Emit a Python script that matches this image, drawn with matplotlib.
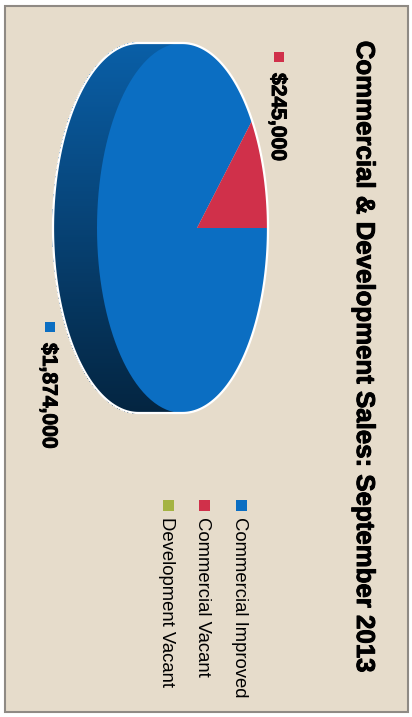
import numpy as np
import matplotlib.pyplot as plt
import matplotlib.colors as mcolors
import matplotlib.patheffects as pe
from matplotlib.patches import Rectangle, Polygon
from matplotlib.collections import PolyCollection

categories = ["Commercial Improved", "Commercial Vacant", "Development Vacant"]
sales = [1874000, 245000, 0]
colors = ["#0b6ec2", "#d0304a", "#a4b342"]
title = "Commercial & Development Sales: September 2013"

plt.rcParams['font.family'] = ['Liberation Sans', 'DejaVu Sans']

fig = plt.figure(figsize=(4.12, 7.17), dpi=100, facecolor='white')
ax = fig.add_axes([0, 0, 1, 1])
ax.set_xlim(0, 412)
ax.set_ylim(717, 0)
ax.axis('off')

# chart area
ax.add_patch(Rectangle((5, 6), 403, 706, facecolor='#e6dccb',
                       edgecolor='#8f8a84', lw=1.5, zorder=0))

# 3d pie turned on its side: far rim points right, thickness shows on the left
cx, cy = 182.5, 228
rx, ry = 85.5, 185
depth = 44
persp = 0.17


def rim_angle(theta):
    # slice boundary (deg, clockwise from the far rim) -> angle on the drawn ellipse
    t = np.radians(theta)
    z, x = np.cos(t), np.sin(t)
    w = 1 + persp * z
    return np.degrees(np.arctan2(np.sqrt(1 - persp ** 2) * x / w, (z + persp) / w))


def arc(a0, a1, shift=0.0, n=120):
    p = np.radians(np.linspace(a0, a1, n))
    return np.column_stack([cx + rx * np.cos(p) - shift, cy + ry * np.sin(p)])


def side_shade(y):
    # lit at the top end of the wall, almost black at the bottom end
    t = (y - (cy - ry)) / (2 * ry)
    return np.interp(t, [0, 0.5, 1], [0.86, 0.6, 0.33])


total = sum(sales)
bounds = np.concatenate([[0], np.cumsum(sales) / total * 360])
slices = []
for i, v in enumerate(sales):
    if v <= 0:
        continue
    a0 = rim_angle(bounds[i]) % 360
    a1 = rim_angle(bounds[i + 1]) % 360
    if i == 0:
        a0 = 0.0
    if a1 <= a0:
        a1 += 360
    slices.append((i, a0, a1))

# side walls (only the near half is visible), drawn in thin shaded strips
for i, a0, a1 in slices:
    base = np.array(mcolors.to_rgb(colors[i]))
    for lo_lim, hi_lim in [(90, 270), (450, 630)]:
        lo, hi = max(a0, lo_lim), min(a1, hi_lim)
        if hi <= lo:
            continue
        top = arc(lo, hi, n=240)
        bot = arc(lo, hi, shift=depth, n=240)
        quads, fills = [], []
        for k in range(len(top) - 1):
            quads.append([top[k], top[k + 1], bot[k + 1], bot[k]])
            fills.append(np.clip(base * side_shade(top[k][1]), 0, 1))
        ax.add_collection(PolyCollection(quads, facecolors=fills,
                                         edgecolors=fills, lw=0.6,
                                         antialiased=False, zorder=2))

# top face
apex = (cx + rx * persp, cy)
for i, a0, a1 in slices:
    pts = np.vstack([[apex], arc(a0, a1)])
    ax.add_patch(Polygon(pts, closed=True, facecolor=colors[i],
                         edgecolor='none', zorder=3))

# white rim around the whole pie
outline = np.vstack([arc(-90, 90), arc(90, 270, shift=depth)])
ax.add_patch(Polygon(outline, closed=True, facecolor='none',
                     edgecolor='white', lw=1.6, zorder=4))

bold_fx = [pe.withStroke(linewidth=0.7, foreground='black')]

# data labels with colour key
label_anchor = {0: (43, 343), 1: (272, 73)}
for i, a0, a1 in slices:
    bx, by = label_anchor[i]
    ax.add_patch(Rectangle((bx + 2.5, by - 21), 10, 10, facecolor=colors[i],
                           edgecolor='none', zorder=5))
    ax.text(bx, by, f"${sales[i]:,.0f}", rotation=-90, rotation_mode='anchor',
            ha='left', va='baseline', fontsize=15.2, fontweight='bold',
            path_effects=bold_fx, zorder=5)

ax.text(357, 357, title, rotation=-90, rotation_mode='anchor',
        ha='center', va='baseline', fontsize=18.6, fontweight='bold',
        path_effects=bold_fx)

# legend
for i, name in enumerate(categories):
    bx = 235 - 36.5 * i
    ax.add_patch(Rectangle((bx + 1, 500), 11, 11, facecolor=colors[i],
                           edgecolor='none', zorder=5))
    ax.text(bx, 517, name, rotation=-90, rotation_mode='anchor',
            ha='left', va='baseline', fontsize=13.3, zorder=5)

fig.savefig('out.png', dpi=100, facecolor='white')
